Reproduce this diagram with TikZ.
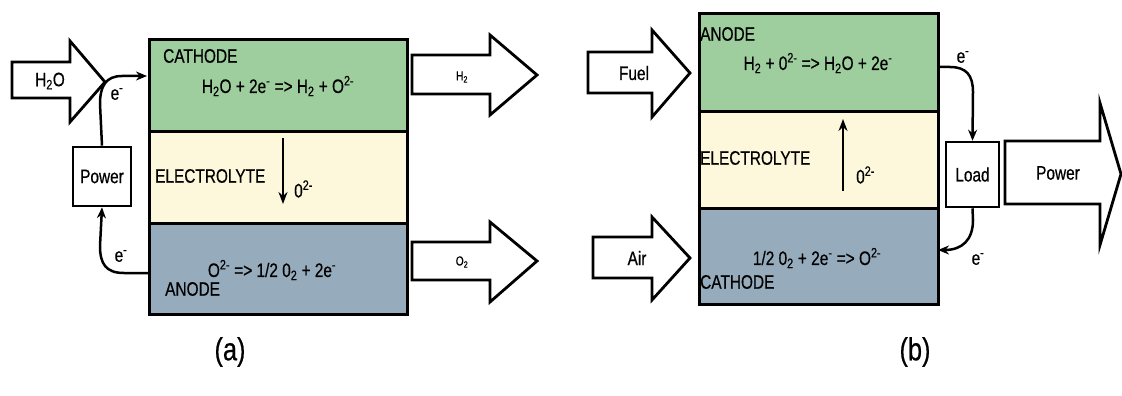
\documentclass[tikz,border=0pt]{standalone}
\usepackage{fontspec}
\setmainfont{Liberation Sans}[FakeStretch=0.79,FakeBold=0.5]
\usetikzlibrary{arrows.meta}
\definecolor{cgreen}{RGB}{158,205,158}
\definecolor{cyellow}{RGB}{253,248,220}
\definecolor{cblue}{RGB}{150,172,188}
\begin{document}
\begin{tikzpicture}[x=1pt,y=-1pt,
  layer/.style={draw, line width=3.2pt, inner sep=0pt, anchor=north west, minimum width=#1},
  blockarrow/.style={draw, line width=2.8pt, fill=white, line join=miter},
  txt/.style={inner sep=0pt, font=\fontsize{19.5}{22}\selectfont},
  small/.style={inner sep=0pt, font=\fontsize{13}{15}\selectfont},
  boxnode/.style={draw, line width=2.6pt, fill=white, inner sep=0pt, font=\fontsize{19.5}{22}\selectfont},
  wire/.style={line width=2.5pt, -{Stealth[length=11pt,width=9pt]}},
  ion/.style={line width=2.5pt, -{Stealth[length=12pt,width=9pt]}},
  caption/.style={inner sep=0pt, font=\fontsize{32}{36}\selectfont}]
\useasboundingbox[fill=white] (0,0) rectangle (1122,396);

% ---------------- (a) ----------------
\node[layer=258, fill=cgreen, minimum height=92] (cg) at (148,38) {};
\node[layer=258, fill=cyellow, minimum height=92] (cy) at (148,130) {};
\node[layer=258, fill=cblue, minimum height=91] (cb) at (148,222) {};

\node[txt, anchor=west] (cgt) at (163,56) {CATHODE};
\node[txt] (cge) at (278,86) {H\textsubscript{2}O + 2e\textsuperscript{-} => H\textsubscript{2} + O\textsuperscript{2-}};
\node[txt, anchor=west] (cyt) at (155,176) {ELECTROLYTE};
\coordinate (ia1) at (283,138);
\coordinate (ia2) at (283,204);
\draw[ion] (ia1) -- (ia2);
\node[txt, anchor=west] (cyo) at (294,189) {0\textsuperscript{2-}};
\node[txt] (cbe) at (272,270) {O\textsuperscript{2-} => 1/2 0\textsubscript{2} + 2e\textsuperscript{-}};
\node[txt, anchor=west] (cbt) at (165,289) {ANODE};

% input arrow H2O
\draw[blockarrow] (12,62) -- (70,62) -- (70,41) -- (105,82) -- (70,122) -- (70,98) -- (12,98) -- cycle;
\node[txt] (h2o) at (50,81) {H\textsubscript{2}O};

% output arrows
\draw[blockarrow] (412,55) -- (490,55) -- (490,35) -- (537,75) -- (490,115) -- (490,94) -- (412,94) -- cycle;
\node[small] (h2) at (462,77) {H\textsubscript{2}};
\draw[blockarrow] (412,242) -- (490,242) -- (490,222) -- (537,261) -- (490,302) -- (490,280) -- (412,280) -- cycle;
\node[small] (o2) at (462,262) {O\textsubscript{2}};

% power supply and electrons
\node[boxnode, minimum width=58, minimum height=59] (pw) at (102,176.5) {Power};
\coordinate (cgin) at (147,76);
\coordinate (cbout) at (148,273);
\draw[wire] (pw.north) -- (100,104) .. controls (100,86) and (106,76) .. (122,76) -- (cgin);
\draw[wire] (cbout) -- (124,273) .. controls (106,273) and (100,264) .. (100,246) -- (pw.south);
\node[txt] (e1) at (117,94) {e\textsuperscript{-}};
\node[txt] (e2) at (121,256) {e\textsuperscript{-}};

\node[caption] (capa) at (230,352) {(a)};

% ---------------- (b) ----------------
\node[layer=239, fill=cgreen, minimum height=98] (ag) at (698,12) {};
\node[layer=239, fill=cyellow, minimum height=97] (ay) at (698,110) {};
\node[layer=239, fill=cblue, minimum height=96] (ab) at (698,207) {};

\node[txt, anchor=west] (agt) at (700,34) {ANODE};
\node[txt] (age) at (818,63) {H\textsubscript{2} + 0\textsuperscript{2-} => H\textsubscript{2}O + 2e\textsuperscript{-}};
\node[txt, anchor=west] (ayt) at (700,158) {ELECTROLYTE};
\coordinate (ib1) at (843,191);
\coordinate (ib2) at (843,119);
\draw[ion] (ib1) -- (ib2);
\node[txt, anchor=west] (ayo) at (856,175) {0\textsuperscript{2-}};
\node[txt] (abe) at (817,258) {1/2 0\textsubscript{2} + 2e\textsuperscript{-} => O\textsuperscript{2-}};
\node[txt, anchor=west] (abt) at (700,282) {CATHODE};

% input arrows
\draw[blockarrow] (588,52) -- (652,52) -- (652,30) -- (690,73) -- (652,117) -- (652,93) -- (588,93) -- cycle;
\node[txt] (fuel) at (634,73) {Fuel};
\draw[blockarrow] (593,237) -- (652,237) -- (652,217) -- (690,258) -- (652,300) -- (652,278) -- (593,278) -- cycle;
\node[txt] (air) at (637,258) {Air};

% load and power output
\node[boxnode, minimum width=53, minimum height=65] (ld) at (972.5,174.5) {Load};
\draw[blockarrow] (1005,141) -- (1100,141) -- (1100,103) -- (1121,174) -- (1100,245) -- (1100,204) -- (1005,204) -- cycle;
\node[txt] (pwr) at (1058,173) {Power};

\coordinate (agout) at (937,67);
\coordinate (abin) at (938,250);
\draw[wire] (agout) -- (950,67) .. controls (966,67) and (973,75) .. (973,92) -- (ld.north);
\draw[wire] (ld.south) -- (973,220) .. controls (973,240) and (962,250) .. (abin);
\node[txt] (e3) at (963,57) {e\textsuperscript{-}};
\node[txt] (e4) at (978,259) {e\textsuperscript{-}};

\node[caption] (capb) at (915,352) {(b)};
\end{tikzpicture}
\end{document}
